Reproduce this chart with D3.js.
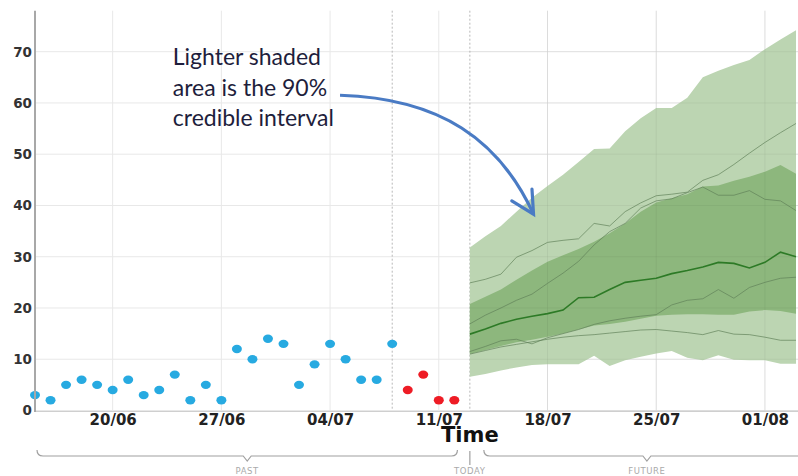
<!DOCTYPE html>
<html><head><meta charset="utf-8">
<script src="https://cdn.jsdelivr.net/npm/d3@7"></script>
<style>body{margin:0;background:#fff} svg{display:block}</style>
</head><body><svg id="c" width="798" height="476"></svg>
<script>
// ---------- data ----------
const observedDates = ["15/06","16/06","17/06","18/06","19/06","20/06","21/06","22/06","23/06","24/06","25/06","26/06","27/06","28/06","29/06","30/06","01/07","02/07","03/07","04/07","05/07","06/07","07/07","08/07"];
const observedValues = [3,2,5,6,5,4,6,3,4,7,2,5,2,12,10,14,13,5,9,13,10,6,6,13];
const recentDates = ["09/07","10/07","11/07","12/07"];
const recentValues = [4,7,2,2];
const forecastDates = ["13/07","14/07","15/07","16/07","17/07","18/07","19/07","20/07","21/07","22/07","23/07","24/07","25/07","26/07","27/07","28/07","29/07","30/07","31/07","01/08","02/08","03/08"];
const ci90Low  = [6.6,7.1,7.8,8.4,8.9,9,9,9,10.7,8.7,9.8,10.5,11.1,11.6,10.3,9.8,10.8,9.9,9.8,9.8,9.1,9.1];
const ci90High = [31.8,34,36,38.8,41.5,43.8,46,48.5,51,51.1,54.5,57,59,59,61,65,66.3,67.4,68.4,70.5,72.4,74.2];
const ci50Low  = [11,11.8,12.6,13.3,13.8,14.4,15,15.8,16.6,16.9,17.3,17.9,18.5,18.7,18.8,18.8,18.7,18.7,19.3,19.6,19.4,18.9];
const ci50High = [20.8,22.2,23.6,25.5,27.3,29,30.3,31.5,32.9,34.6,36.5,38.8,40.6,41.4,42.2,43.7,43.9,44.8,45.6,46.6,47.9,46.2];
const medianValues = [14.9,15.9,17,17.8,18.4,18.9,19.6,22,22.1,23.6,25,25.4,25.8,26.7,27.3,28,28.9,28.7,27.8,28.9,30.9,30];
const traceA = [24.9,25.6,26.6,29.9,31.2,32.8,33.2,33.5,36.5,36,38.8,40.5,41.9,42.2,42.6,44.9,46,48,50.2,52.3,54.2,56];
const traceB = [16.9,18.6,20,21.5,22.7,24.8,26.8,29.1,32.3,34.9,36.5,39.5,40.9,41.3,42.5,43.6,42,42,42.9,41.2,40.9,39];
const traceC = [11.5,12.5,13.6,13.9,13,14.2,15,15.8,16.8,17.5,18,18.4,18.7,20.6,21.5,21.8,23.6,21.9,24,25,25.8,26];
const traceD = [11,11.7,12.4,12.9,13.4,13.9,14.3,14.6,14.8,15.1,15.4,15.7,15.8,15.5,15.2,14.8,15.6,14.9,14.8,14.3,13.7,13.7];
const yTickValues = [0,10,20,30,40,50,60,70];
const xTickLabels = ["20/06","27/06","04/07","11/07","18/07","25/07","01/08"];
const lastReported = "08/07";
const today = "13/07";
const annotationLines = ["Lighter shaded","area is the 90%","credible interval"];

// ---------- setup ----------
const svg = d3.select("#c");
const parse = s => d3.timeParse("%d/%m/%Y")(s + "/2020");
const t0 = parse("15/06"), t1 = parse("03/08");
const DAY = 864e5;
const x = d3.scaleTime().domain([t0, t1]).range([35, 796]);
const y = d3.scaleLinear().domain([0, 78]).range([410.5, 10.7]);
const dx = d => x(new Date(+t0 + d * DAY));
const xL = 35, xR = 798, yB = y(0), yT = y(78);

// grid
const grid = svg.append("g");
grid.selectAll("line.h").data(yTickValues).join("line")
  .attr("x1", xL).attr("x2", xR).attr("y1", d => y(d)).attr("y2", d => y(d))
  .attr("stroke", "#e8e8e8").attr("stroke-width", 1);
grid.selectAll("line.v").data(xTickLabels).join("line")
  .attr("x1", d => x(parse(d))).attr("x2", d => x(parse(d)))
  .attr("y1", yT).attr("y2", yB)
  .attr("stroke", "#e8e8e8").attr("stroke-width", 1);
grid.selectAll("line.d").data([lastReported, today]).join("line")
  .attr("x1", d => x(parse(d))).attr("x2", d => x(parse(d)))
  .attr("y1", yT).attr("y2", yB)
  .attr("stroke", "#b8b8b8").attr("stroke-width", 1).attr("stroke-dasharray", "2,2");

// bands
const fd = forecastDates.map(parse);
const band = (lo, hi) => d3.area().x((d, i) => x(fd[i])).y0((d, i) => y(lo[i])).y1((d, i) => y(hi[i]))(fd);
svg.append("path").attr("d", band(ci90Low, ci90High)).attr("fill", "#bcd5b2");
svg.append("path").attr("d", band(ci50Low, ci50High)).attr("fill", "#8db77d");

// grid overlay (visible through bands)
const go = svg.append("g").attr("opacity", 0.6);
go.selectAll("line.h").data(yTickValues).join("line")
  .attr("x1", x(fd[0])).attr("x2", xR).attr("y1", d => y(d)).attr("y2", d => y(d))
  .attr("stroke", "rgba(0,0,0,0.07)");
go.selectAll("line.v").data(xTickLabels.slice(4)).join("line")
  .attr("x1", d => x(parse(d))).attr("x2", d => x(parse(d)))
  .attr("y1", yT).attr("y2", yB).attr("stroke", "rgba(0,0,0,0.08)");

// traces
const line = vals => d3.line().x((d, i) => x(fd[i])).y(d => y(d))(vals);
[traceA, traceB, traceC, traceD].forEach(t => {
  svg.append("path").attr("d", line(t)).attr("fill", "none")
    .attr("stroke", "#5f7f58").attr("stroke-width", 0.8).attr("opacity", 0.85);
});
svg.append("path").attr("d", line(medianValues)).attr("fill", "none")
  .attr("stroke", "#2d7a26").attr("stroke-width", 1.6);

// dots
svg.append("g").selectAll("ellipse").data(observedDates.map((d, i) => [parse(d), observedValues[i]])).join("ellipse")
  .attr("cx", d => x(d[0])).attr("cy", d => y(d[1])).attr("rx", 5).attr("ry", 4.2).attr("fill", "#27aae1");
svg.append("g").selectAll("ellipse").data(recentDates.map((d, i) => [parse(d), recentValues[i]])).join("ellipse")
  .attr("cx", d => x(d[0])).attr("cy", d => y(d[1])).attr("rx", 5).attr("ry", 4.2).attr("fill", "#ee1c25");

// axes lines
svg.append("line").attr("x1", xL).attr("x2", xR).attr("y1", yB + 1).attr("y2", yB + 1)
  .attr("stroke", "#cfcfcf").attr("stroke-width", 1.2);
svg.append("line").attr("x1", xL).attr("x2", xL).attr("y1", yT).attr("y2", yB + 1.5)
  .attr("stroke", "#a8a8a8").attr("stroke-width", 2);

// y axis labels
const ya = svg.append("g").attr("transform", `translate(${xL},0)`)
  .call(d3.axisLeft(y).tickValues(yTickValues).tickSize(0).tickPadding(3));
ya.select(".domain").remove();
ya.selectAll("text").attr("font-family", "DejaVu Sans").attr("font-weight", "bold")
  .attr("font-size", 13.5).attr("fill", "#333");

// x axis labels
const xa = svg.append("g").attr("transform", `translate(0,${yB + 1})`)
  .call(d3.axisBottom(x).tickValues(xTickLabels.map(parse)).tickFormat(d3.timeFormat("%d/%m")).tickSize(0).tickPadding(3));
xa.select(".domain").remove();
xa.selectAll("text").attr("font-family", "DejaVu Sans").attr("font-weight", "bold")
  .attr("font-size", 15).attr("fill", "#222");

// Time label
svg.append("text").attr("x", x(parse(today))).attr("y", 442).attr("text-anchor", "middle")
  .attr("font-family", "DejaVu Sans").attr("font-weight", "bold").attr("font-size", 21).attr("fill", "#111")
  .text("Time");

// brackets
function brace(x0, x1, yTop, yMid, tip) {
  const xm = (x0 + x1) / 2;
  return `M${x0},${yTop} Q${x0},${yMid} ${x0 + 6},${yMid} L${xm - 4},${yMid} L${xm},${yMid + tip} L${xm + 4},${yMid} L${x1 - 6},${yMid} Q${x1},${yMid} ${x1},${yTop}`;
}
const br = svg.append("g").attr("fill", "none").attr("stroke", "#a0a0a0").attr("stroke-width", 1.2);
br.append("path").attr("d", brace(dx(0.13), dx(27.2), 450, 456, 5));
br.append("path").attr("d", brace(dx(28.9), dx(49.9), 450, 456, 5));
br.append("line").attr("x1", x(parse(today))).attr("x2", x(parse(today))).attr("y1", 451).attr("y2", 465);
const lbl = svg.append("g").attr("font-family", "DejaVu Sans").attr("font-size", 8.5)
  .attr("fill", "#aaa").attr("text-anchor", "middle").attr("letter-spacing", 0.6);
lbl.append("text").attr("x", (dx(0.13) + dx(27.2)) / 2).attr("y", 474).text("PAST");
lbl.append("text").attr("x", x(parse(today))).attr("y", 474).text("TODAY");
lbl.append("text").attr("x", (dx(28.9) + dx(49.9)) / 2).attr("y", 474).text("FUTURE");

// annotation
const ann = svg.append("g").attr("font-family", "Lato").attr("font-size", 23).attr("fill", "#1e1e3c");
annotationLines.forEach((t, i) => ann.append("text").attr("x", dx(8.87)).attr("y", 65 + i * 30.5).text(t));
const P = (d, v) => [dx(d), y(v)];
const a0 = P(19.64, 61.5), c1 = P(26.1, 60.9), c2 = P(29.9, 52.8), a1 = P(32.1, 38.3);
const pth = d3.path();
pth.moveTo(...a0); pth.bezierCurveTo(...c1, ...c2, ...a1);
const ph = d3.path();
const pL = P(30.7, 40.9), pR = P(32.0, 43.2);
ph.moveTo(...pL); ph.lineTo(...a1); ph.lineTo(...pR);
svg.append("path").attr("d", pth.toString()).attr("fill", "none").attr("stroke", "#4a7bc4").attr("stroke-width", 3.2);
svg.append("path").attr("d", ph.toString()).attr("fill", "none").attr("stroke", "#4a7bc4").attr("stroke-width", 3.2)
  .attr("stroke-linejoin", "miter").attr("stroke-linecap", "round");
</script></body></html>
